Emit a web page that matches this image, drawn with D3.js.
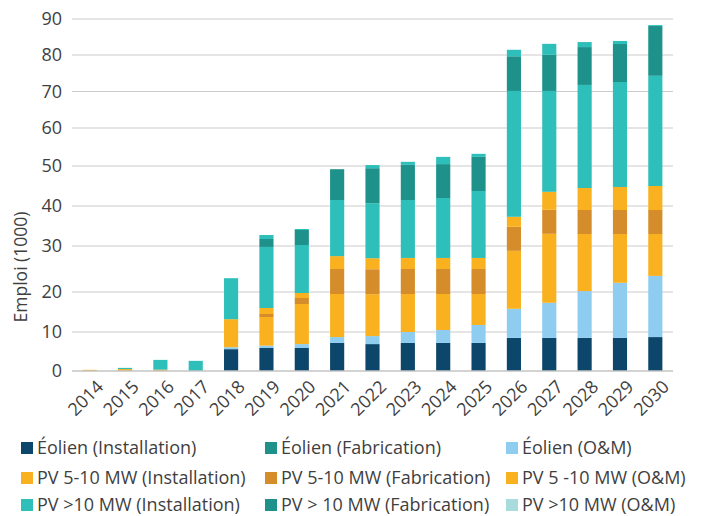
<!DOCTYPE html>
<html>
<head>
<meta charset="utf-8">
<script src="https://cdn.jsdelivr.net/npm/d3@7"></script>
<style>
  body { margin: 0; background: #fff; }
  text { font-family: "Open Sans", "Liberation Sans", Arial, sans-serif; fill: #3f3f3f; }
</style>
</head>
<body>
<script>
const years = [2014, 2015, 2016, 2017, 2018, 2019, 2020, 2021, 2022, 2023, 2024, 2025, 2026, 2027, 2028, 2029, 2030];

// values in thousands of jobs
const eolienInstallation = [0, 0, 0, 0, 5.6, 5.9, 5.9, 7.2, 6.9, 7.2, 7.2, 7.2, 8.5, 8.5, 8.5, 8.5, 8.7];
const eolienFabrication  = [0, 0, 0, 0, 0, 0, 0, 0, 0, 0, 0, 0, 0, 0, 0, 0, 0];
const eolienOM           = [0, 0, 0, 0, 0.5, 0.6, 1.0, 1.5, 2.05, 2.8, 3.3, 4.55, 7.3, 8.8, 11.7, 13.5, 14.8];
const pv510Installation  = [0.3, 0.5, 0.35, 0, 7.1, 7.25, 10.1, 10.8, 10.5, 9.5, 9.0, 7.75, 13.15, 15.75, 12.8, 11.0, 9.5];
const pv510Fabrication   = [0, 0, 0, 0, 0, 0.75, 1.5, 5.5, 5.5, 5.5, 5.5, 5.5, 5.85, 6, 6, 6, 6];
const pv510OM            = [0, 0, 0, 0, 0, 1.5, 1.25, 2.8, 2.4, 2.4, 2.4, 2.4, 2.5, 4.5, 5.5, 5.75, 6];
const pv10Installation   = [0, 0.3, 2.5, 2.6, 9.8, 13.8, 10.5, 13.7, 13.35, 14.1, 14.6, 16.35, 32.85, 26.6, 27.3, 27.85, 29.3];
const pv10Fabrication    = [0, 0, 0, 0, 0, 1.95, 3.75, 7.7, 8.75, 8.8, 8.5, 8.65, 9.5, 9.9, 10.4, 10.45, 13.75];
const pv10OM             = [0, 0, 0, 0, 0, 1.0, 0.25, 0, 0.8, 0.8, 1.9, 0.8, 1.8, 3.05, 1.4, 0.85, 0.25];

const seriesNames = [
  "Éolien (Installation)", "Éolien (Fabrication)", "Éolien (O&M)",
  "PV 5-10 MW (Installation)", "PV 5-10 MW (Fabrication)", "PV 5 -10 MW (O&M)",
  "PV >10 MW (Installation)", "PV > 10 MW (Fabrication)", "PV >10 MW (O&M)"
];
const seriesValues = [eolienInstallation, eolienFabrication, eolienOM,
  pv510Installation, pv510Fabrication, pv510OM,
  pv10Installation, pv10Fabrication, pv10OM];

const yTicks = [0, 10, 20, 30, 40, 50, 60, 70, 80, 90];

const barColors    = ["#0c466b", "#1f918b", "#8ecdf0", "#f9b11f", "#d48d2a", "#f9b11f", "#2ebfbb", "#1f918b", "#2ebfbb"];
const legendColors = ["#0c466b", "#1f918b", "#8ecdf0", "#f9b11f", "#d48d2a", "#f9b11f", "#2ebfbb", "#1f918b", "#a8dcdc"];

const width = 707, height = 516;

const svg = d3.select("body").append("svg")
  .attr("width", width)
  .attr("height", height);

// table for d3.stack
const table = years.map((y, i) => {
  const row = { year: y };
  seriesNames.forEach((n, k) => row[n] = seriesValues[k][i]);
  return row;
});
const stacked = d3.stack().keys(seriesNames)(table);

const x = d3.scaleBand()
  .domain(years)
  .range([72, 673])
  .paddingInner(0.6)
  .paddingOuter(0.3);

// the source axis is not evenly spaced, so map each tick to where its gridline sits
const y = d3.scaleLinear()
  .domain(yTicks)
  .range([371, 332, 292, 246, 206, 166, 128, 91.5, 55, 19]);

// gridlines
svg.append("g")
  .selectAll("line")
  .data(yTicks.slice(1))
  .join("line")
  .attr("x1", 72).attr("x2", 673)
  .attr("y1", d => y(d)).attr("y2", d => y(d))
  .attr("stroke", "#cccccc")
  .attr("stroke-width", 1.2);

// bars
svg.append("g")
  .selectAll("g")
  .data(stacked)
  .join("g")
  .attr("fill", (d, i) => barColors[i])
  .selectAll("rect")
  .data(d => d)
  .join("rect")
  .attr("x", d => x(d.data.year))
  .attr("width", x.bandwidth())
  .attr("y", d => y(d[1]))
  .attr("height", d => Math.max(0, y(d[0]) - y(d[1])));

// baseline
svg.append("line")
  .attr("x1", 72).attr("x2", 673)
  .attr("y1", y(0)).attr("y2", y(0))
  .attr("stroke", "#c4c4c4")
  .attr("stroke-width", 1.6);

// y tick labels
svg.append("g")
  .selectAll("text")
  .data(yTicks)
  .join("text")
  .attr("x", 62)
  .attr("y", d => y(d))
  .attr("dy", "0.35em")
  .attr("text-anchor", "end")
  .attr("font-size", 18)
  .text(d => d);

// x tick labels
svg.append("g")
  .selectAll("text")
  .data(years)
  .join("text")
  .attr("transform", d => `translate(${x(d) + x.bandwidth() / 2 + 6},${y(0) + 8}) rotate(-45)`)
  .attr("text-anchor", "end")
  .attr("dy", "0.7em")
  .attr("font-size", 18)
  .text(d => d);

// y title
svg.append("text")
  .attr("transform", `translate(27,267) rotate(-90)`)
  .attr("text-anchor", "middle")
  .attr("font-size", 17.5)
  .text("Emploi (1000)");

// legend
const legendX = [21, 265, 506];
const legendY = [448, 478, 505];
const legend = svg.append("g")
  .selectAll("g")
  .data(seriesNames)
  .join("g")
  .attr("transform", (d, i) => `translate(${legendX[i % 3]},${legendY[Math.floor(i / 3)]})`);

legend.append("rect")
  .attr("x", 0).attr("y", -6)
  .attr("width", 12).attr("height", 12)
  .attr("fill", (d, i) => legendColors[i]);

legend.append("text")
  .attr("x", 16)
  .attr("y", 0)
  .attr("dy", "0.35em")
  .attr("font-size", 18)
  .text(d => d);
</script>
</body>
</html>
